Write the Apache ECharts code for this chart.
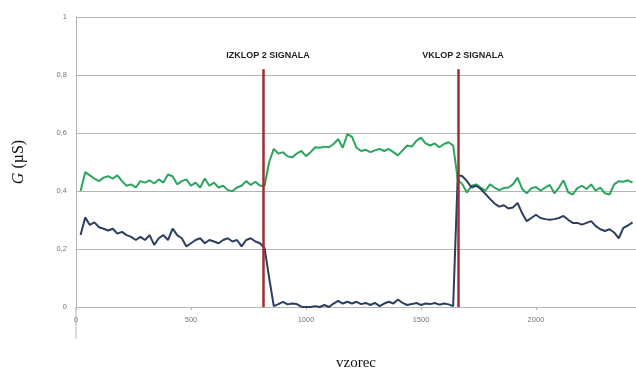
<!DOCTYPE html>
<html>
<head>
<meta charset="utf-8">
<script src="https://cdn.jsdelivr.net/npm/echarts@6/dist/echarts.min.js"></script>
<style>html,body{margin:0;padding:0;background:#fff}#c{width:636px;height:376px}</style>
</head>
<body>
<div id="c"></div>
<script>
// sample index of each reading (every 20 samples)
const sampleStep = 20;
const greenValues = [
0.400,0.465,0.454,0.443,0.434,0.446,0.451,0.443,0.454,0.434,
0.418,0.423,0.412,0.434,0.429,0.437,0.426,0.440,0.429,0.457,
0.451,0.423,0.434,0.440,0.418,0.429,0.412,0.443,0.418,0.429,
0.412,0.418,0.403,0.399,0.412,0.418,0.434,0.421,0.432,0.418,
0.418,0.500,0.545,0.529,0.534,0.520,0.516,0.529,0.538,0.520,
0.534,0.551,0.549,0.553,0.551,0.562,0.579,0.549,0.596,0.587,
0.549,0.538,0.542,0.534,0.540,0.545,0.538,0.545,0.534,0.523,
0.540,0.557,0.553,0.573,0.584,0.564,0.557,0.564,0.551,0.562,
0.568,0.557,0.440,0.423,0.395,0.418,0.423,0.412,0.401,0.423,
0.412,0.403,0.410,0.412,0.423,0.446,0.407,0.392,0.410,0.414,
0.401,0.412,0.421,0.392,0.412,0.437,0.395,0.388,0.410,0.418,
0.407,0.423,0.401,0.412,0.392,0.388,0.423,0.434,0.432,0.437,
0.429
];
const blueValues = [
0.248,0.309,0.283,0.292,0.275,0.270,0.264,0.270,0.253,0.259,
0.248,0.242,0.231,0.242,0.231,0.248,0.214,0.237,0.248,0.231,
0.270,0.248,0.237,0.209,0.220,0.231,0.237,0.220,0.231,0.226,
0.220,0.231,0.237,0.226,0.231,0.209,0.231,0.237,0.226,0.220,
0.203,0.100,0.003,0.010,0.018,0.009,0.012,0.010,0.001,0.000,
0.000,0.003,0.000,0.007,0.000,0.012,0.021,0.012,0.018,0.012,
0.018,0.010,0.014,0.007,0.014,0.003,0.012,0.018,0.012,0.026,
0.014,0.007,0.010,0.014,0.007,0.012,0.010,0.014,0.008,0.012,
0.009,0.003,0.455,0.451,0.434,0.412,0.418,0.407,0.390,0.373,
0.357,0.346,0.351,0.340,0.343,0.359,0.323,0.296,0.307,0.318,
0.307,0.303,0.301,0.303,0.307,0.314,0.301,0.290,0.290,0.284,
0.290,0.296,0.279,0.268,0.262,0.268,0.257,0.237,0.273,0.281,
0.292
];
const xTicks = [0, 500, 1000, 1500, 2000];
const yTicks = [0, 0.2, 0.4, 0.6, 0.8, 1];
const eventSamples = [813, 1661];
const eventLabels = ['IZKLOP 2 SIGNALA', 'VKLOP 2 SIGNALA'];
const eventTop = 0.82;

const toPairs = vals => vals.map((v, i) => [(i + 1) * sampleStep, v]);

const chart = echarts.init(document.getElementById('c'), null, {renderer: 'canvas'});
const gridCol = '#b4b4b4';
const option = {
  animation: false,
  backgroundColor: '#fff',
  grid: {left: 76, top: 17, right: 0, bottom: 59},
  xAxis: {
    type: 'value', min: 0, max: 2435, interval: 500,
    name: 'vzorec', nameLocation: 'middle', nameGap: 49,
    nameTextStyle: {fontFamily: 'Liberation Serif', fontSize: 15, color: '#111'},
    axisLine: {show: true, lineStyle: {color: gridCol, width: 1}},
    axisTick: {show: true, length: 3, lineStyle: {color: gridCol}},
    axisLabel: {margin: 9, fontFamily: 'Liberation Sans', fontSize: 7.5, color: '#777',
      showMaxLabel: false,
      formatter: v => xTicks.includes(v) ? String(v) : ''},
    splitLine: {show: false}
  },
  yAxis: {
    type: 'value', min: 0, max: 1, interval: 0.2,
    name: '{i|G} (µS)', nameLocation: 'middle', nameGap: 49, nameRotate: 90,
    nameTextStyle: {fontFamily: 'Liberation Serif', fontSize: 16, color: '#111',
      rich: {i: {fontFamily: 'Liberation Serif', fontStyle: 'italic', fontSize: 16, color: '#111'}}},
    axisLine: {show: true, lineStyle: {color: gridCol, width: 1}},
    axisTick: {show: false},
    axisLabel: {margin: 9, fontFamily: 'Liberation Sans', fontSize: 7.5, color: '#777',
      formatter: v => yTicks.some(t => Math.abs(t - v) < 1e-9) ? String(+v.toFixed(1)).replace('.', ',') : ''},
    splitLine: {show: true, lineStyle: {color: gridCol, width: 1}}
  },
  series: [
    {
      name: 'green', type: 'line', data: toPairs(greenValues), showSymbol: false,
      lineStyle: {color: '#2aa55c', width: 2}, z: 2
    },
    {
      name: 'blue', type: 'line', data: toPairs(blueValues), showSymbol: false,
      lineStyle: {color: '#2c3f5e', width: 2}, z: 3,
      markLine: {
        symbol: 'none', silent: true, z: 5,
        lineStyle: {color: '#9e2f33', width: 2.5, type: 'solid'},
        label: {show: true, position: 'end', distance: 9, offset: [5, 0],
          fontFamily: 'Liberation Sans', fontWeight: 'bold', fontSize: 9, color: '#222'},
        data: eventSamples.map((s, i) => [
          {coord: [s, 0], label: {formatter: eventLabels[i]}},
          {coord: [s, eventTop]}
        ])
      }
    }
  ]
};
chart.setOption(option);
// extension of the vertical axis below the category labels
const x0 = chart.convertToPixel({gridIndex: 0}, [0, 0]);
chart.setOption({graphic: [{type: 'line', shape: {x1: x0[0], y1: x0[1], x2: x0[0], y2: x0[1] + 32},
  style: {stroke: gridCol, lineWidth: 1}, silent: true}]});
</script>
</body>
</html>
